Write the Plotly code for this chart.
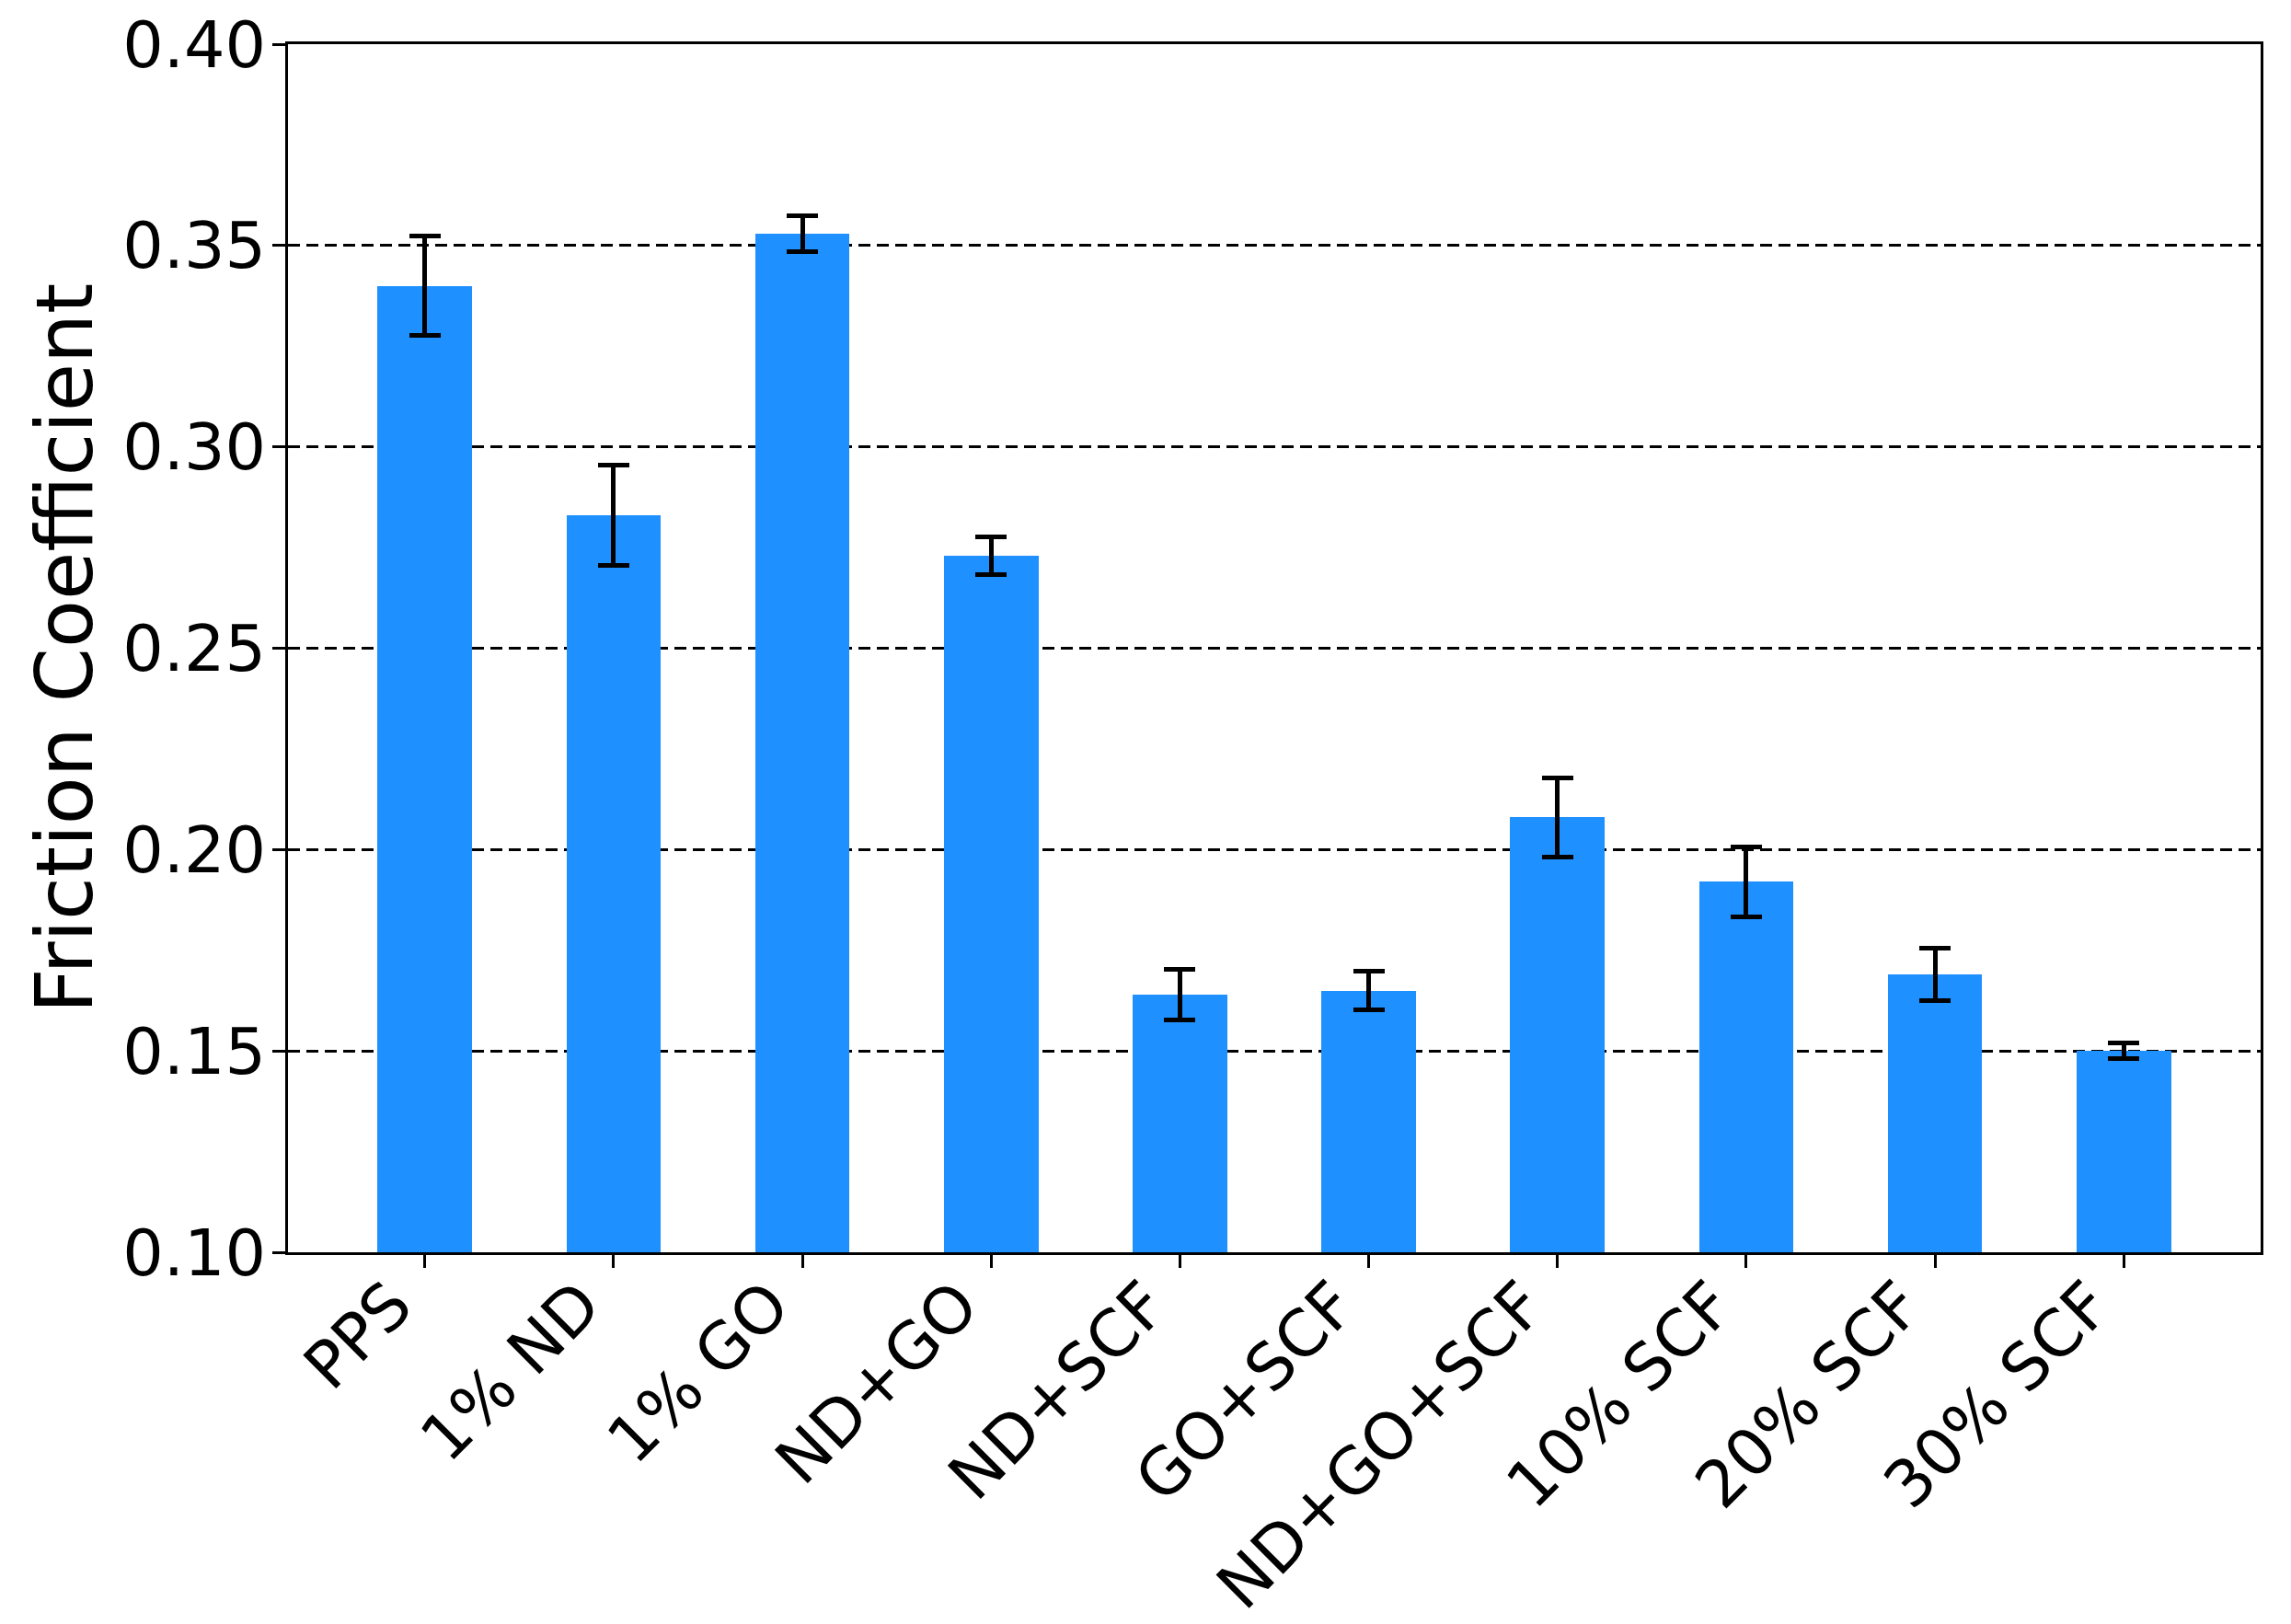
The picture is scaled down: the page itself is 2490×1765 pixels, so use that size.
import plotly.graph_objects as go

categories = ["PPS", "1% ND", "1% GO", "ND+GO", "ND+SCF", "GO+SCF",
              "ND+GO+SCF", "10% SCF", "20% SCF", "30% SCF"]
friction = [0.340, 0.283, 0.353, 0.273, 0.164, 0.165, 0.208, 0.192, 0.169, 0.150]
errors = [0.0123, 0.0124, 0.0045, 0.0047, 0.0062, 0.0048, 0.0098, 0.0087, 0.0066, 0.0020]
y_ticks = [0.10, 0.15, 0.20, 0.25, 0.30, 0.35, 0.40]
y_tick_text = ["0.10", "0.15", "0.20", "0.25", "0.30", "0.35", "0.40"]
y_title = "Friction Coefficient"

FONT = "DejaVu Sans"

fig = go.Figure()
fig.add_trace(go.Bar(
    x=list(range(len(categories))),
    y=friction,
    width=0.5,
    marker=dict(color="#1E90FF", line=dict(width=0)),
    error_y=dict(type="data", array=errors, visible=True,
                 color="black", thickness=5, width=17),
))

fig.update_layout(
    width=2482, height=1757,
    paper_bgcolor="white", plot_bgcolor="white",
    margin=dict(l=305, r=33, t=40, b=404),
    showlegend=False,
    font=dict(family=FONT, color="black", size=70),
    bargap=0,
)

fig.update_xaxes(
    automargin=False,
    tickmode="array",
    tickvals=list(range(len(categories))),
    ticktext=categories,
    tickangle=-45,
    ticklabelstandoff=-29,
    ticklabelshift=-35,
    ticklabeloverflow="allow",
    range=[-0.725, 9.725],
    showline=True, linecolor="black", linewidth=3, mirror=True,
    ticks="outside", ticklen=14, tickwidth=2.5, tickcolor="black",
    tickfont=dict(family=FONT, size=70, color="black"),
    showgrid=False, zeroline=False,
)

fig.update_yaxes(
    automargin=False,
    range=[0.10, 0.40],
    tickmode="array", tickvals=y_ticks, ticktext=y_tick_text,
    ticklabelstandoff=-7,
    ticklabeloverflow="allow",
    showline=True, linecolor="black", linewidth=3, mirror=True,
    ticks="outside", ticklen=14, tickwidth=2.5, tickcolor="black",
    tickfont=dict(family=FONT, size=70, color="black"),
    showgrid=True, gridcolor="black", gridwidth=2.5, griddash="13px,7px",
    zeroline=False,
)

fig.add_annotation(
    text=y_title, textangle=-90,
    xref="paper", yref="paper", x=-0.113, y=0.5,
    xanchor="center", yanchor="middle", showarrow=False,
    font=dict(family=FONT, size=85, color="black"),
)

fig.write_html("out.html")
